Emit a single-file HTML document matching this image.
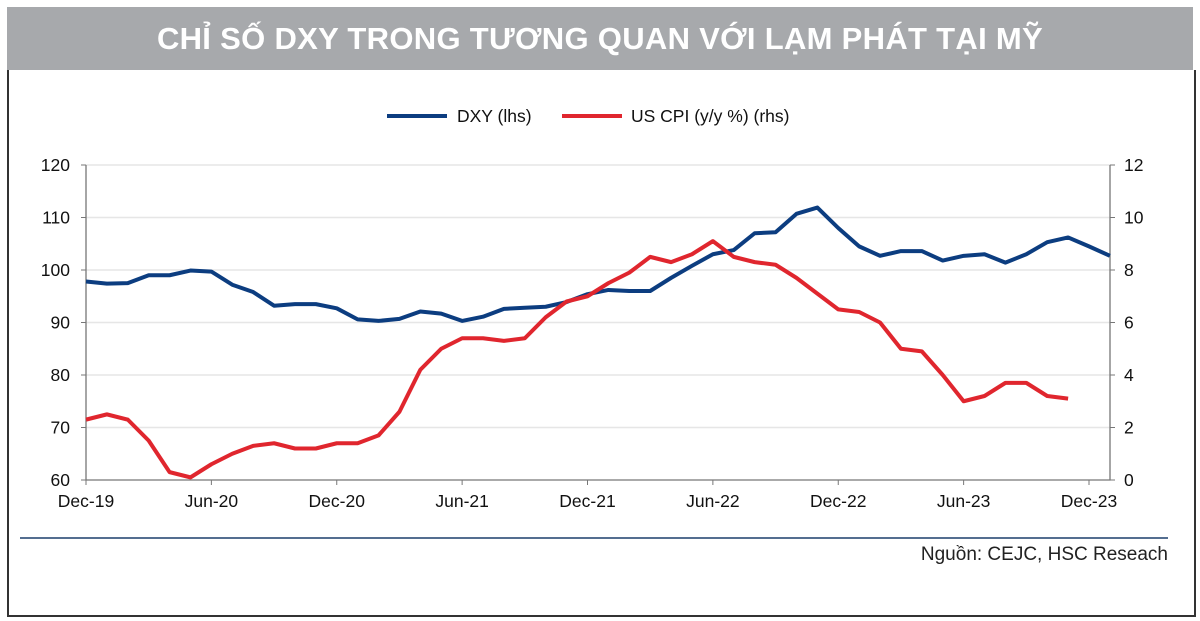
<!DOCTYPE html>
<html><head><meta charset="utf-8">
<style>
html,body{margin:0;padding:0;background:#fff;}
body{width:1200px;height:621px;position:relative;overflow:hidden;font-family:"Liberation Sans","Noto Sans CJK SC",sans-serif;}
#title{position:absolute;left:7px;top:7px;width:1186px;height:63px;background:#a7a9ac;color:#fff;font-weight:bold;font-size:31px;line-height:63px;text-align:center;letter-spacing:0.3px;}
#frame{position:absolute;left:7px;top:70px;width:1185px;height:545px;border:2px solid #333;border-top:none;}
svg{position:absolute;left:0;top:0;}
</style></head><body>
<div id="title">CHỈ SỐ DXY TRONG TƯƠNG QUAN VỚI LẠM PHÁT TẠI MỸ</div>
<div id="frame"></div>
<svg id="chart" width="1200" height="621"></svg>
<script>
const xTickLabels=["Dec-19","Jun-20","Dec-20","Jun-21","Dec-21","Jun-22","Dec-22","Jun-23","Dec-23"];
const leftTicks=[60,70,80,90,100,110,120];
const rightTicks=[0,2,4,6,8,10,12];
const dxy=[97.8,97.4,97.5,99.0,99.0,99.9,99.7,97.2,95.8,93.2,93.5,93.5,92.7,90.6,90.3,90.7,92.1,91.7,90.3,91.1,92.6,92.8,93.0,93.9,95.4,96.2,96.0,96.0,98.5,100.8,103.0,103.8,107.0,107.2,110.7,111.9,108.0,104.5,102.7,103.6,103.6,101.8,102.7,103.0,101.4,103.0,105.3,106.2,104.5,102.7];
const cpi=[2.3,2.5,2.3,1.5,0.3,0.1,0.6,1.0,1.3,1.4,1.2,1.2,1.4,1.4,1.7,2.6,4.2,5.0,5.4,5.4,5.3,5.4,6.2,6.8,7.0,7.5,7.9,8.5,8.3,8.6,9.1,8.5,8.3,8.2,7.7,7.1,6.5,6.4,6.0,5.0,4.9,4.0,3.0,3.2,3.7,3.7,3.2,3.1];
const NS="http://www.w3.org/2000/svg";
const svg=document.getElementById('chart');
const X0=86,X1=1110,Y0=480,Y1=165,MW=(1089-86)/48;
const xs=i=>X0+i*MW;
const xd=i=>X0+i*MW*0.98;
const yl=v=>Y0-(v-60)/60*(Y0-Y1);
const yr=v=>Y0-v/12*(Y0-Y1);
function mk(t,a){const e=document.createElementNS(NS,t);for(const k in a)e.setAttribute(k,a[k]);svg.appendChild(e);return e;}
leftTicks.forEach(v=>{if(v===60)return;
 const g=mk('line',{x1:X0,x2:X1,y1:yl(v),y2:yl(v),stroke:'#e6e6e6','stroke-width':1.5});
 
 });
const ax=mk('path',{d:`M${X0},${Y1}V${Y0}H${X1}V${Y1}`,fill:'none',stroke:'#777','stroke-width':1.3});


leftTicks.forEach(v=>{
 mk('line',{x1:X0-5,x2:X0,y1:yl(v),y2:yl(v),stroke:'#777'});
 const t=mk('text',{x:X0-16,y:yl(v)+6,'text-anchor':'end','font-size':17.5,fill:'#111'});t.textContent=v;
 
 });
rightTicks.forEach(v=>{
 mk('line',{x1:X1,x2:X1+5,y1:yr(v),y2:yr(v),stroke:'#777'});
 const t=mk('text',{x:X1+14,y:yr(v)+6,'text-anchor':'start','font-size':17.5,fill:'#111'});t.textContent=v;
 
 });
xTickLabels.forEach((l,k)=>{const x=xs(k*6);
 mk('line',{x1:x,x2:x,y1:Y0,y2:Y0+5,stroke:'#777'});
 const t=mk('text',{x:x,y:Y0+27,'text-anchor':'middle','font-size':17.5,fill:'#111'});t.textContent=l;
 
 });
const pd=mk('polyline',{points:dxy.map((v,i)=>xs(i)+','+yl(v)).join(' '),fill:'none',stroke:'#0c3d80','stroke-width':4,'stroke-linejoin':'round'});


const pc=mk('polyline',{points:cpi.map((v,i)=>xs(i)+','+yr(v)).join(' '),fill:'none',stroke:'#e0262e','stroke-width':4,'stroke-linejoin':'round'});


const l1=mk('line',{x1:387,x2:447,y1:116,y2:116,stroke:'#0c3d80','stroke-width':4});


const t1=mk('text',{x:457,y:122,'font-size':17.5,fill:'#111'});t1.textContent='DXY (lhs)';


const l2=mk('line',{x1:562,x2:622,y1:116,y2:116,stroke:'#e0262e','stroke-width':4});


const t2=mk('text',{x:631,y:122,'font-size':17.5,fill:'#111'});t2.textContent='US CPI (y/y %) (rhs)';


const r=mk('line',{x1:20,x2:1168,y1:538,y2:538,stroke:'#1b3f6b','stroke-width':1.5});


const s=mk('text',{x:1168,y:560,'text-anchor':'end','font-size':19,fill:'#222'});s.textContent='Nguồn: CEJC, HSC Reseach';


</script>
</body></html>
